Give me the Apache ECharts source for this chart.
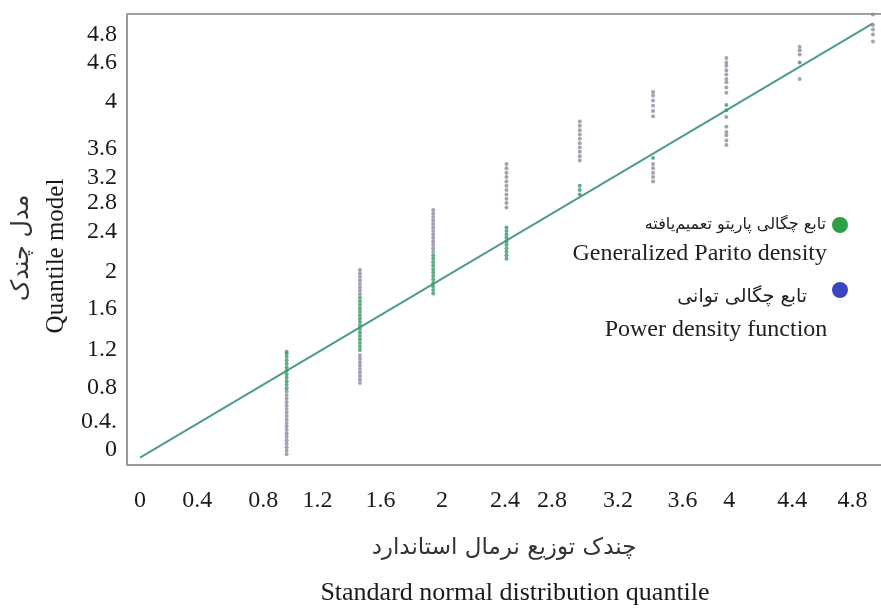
<!DOCTYPE html>
<html>
<head>
<meta charset="utf-8">
<script src="https://cdn.jsdelivr.net/npm/echarts@6/dist/echarts.min.js"></script>
<style>html,body{margin:0;padding:0;background:#fff;}#c{width:881px;height:611px;}</style>
</head>
<body>
<div id="c"></div>
<script>
// ---- data ----
const xColumns = [1, 1.5, 2, 2.5, 3, 3.5, 4, 4.5, 5];
const gpdValues = [
  [0.80,0.84,0.88,0.92,0.96,1.00,1.04,1.08,1.12,1.16,1.20,1.22],
  [1.24,1.28,1.32,1.36,1.40,1.44,1.48,1.52,1.56,1.60,1.64,1.68,1.72,1.76,1.80,1.84],
  [1.89,1.93,1.97,2.01,2.05,2.09,2.13,2.17,2.21,2.25,2.29,2.33],
  [2.29,2.33,2.37,2.41,2.45,2.49,2.53,2.57,2.61,2.65],
  [3.03,3.08,3.13],
  [3.45],
  [4.00,4.06],
  [4.55],
  []
];
const powerValues = [
  [0.04,0.08,0.12,0.16,0.20,0.24,0.28,0.32,0.36,0.40,0.44,0.48,0.52,0.56,0.60,0.64,0.68,0.72,0.76],
  [0.86,0.90,0.94,0.98,1.02,1.06,1.10,1.14,1.18,1.88,1.92,1.96,2.00,2.04,2.08,2.12,2.16],
  [2.37,2.41,2.45,2.49,2.53,2.57,2.61,2.65,2.69,2.73,2.77,2.81,2.85],
  [2.88,2.93,2.98,3.03,3.08,3.13,3.18,3.23,3.28,3.33,3.38],
  [3.42,3.47,3.52,3.57,3.62,3.67,3.72,3.77,3.82,3.87],
  [3.18,3.23,3.28,3.33,3.38,3.93,3.99,4.05,4.11,4.17,4.21],
  [3.60,3.65,3.71,3.75,3.81,3.92,4.20,4.26,4.32,4.36,4.41,4.46,4.51,4.55,4.60],
  [4.36,4.64,4.69,4.73],
  [4.79,4.87,4.93,4.98,5.10]
];
const refLineX = [0, 5];
const refLineY = [0, 5];

const xTickPositions = [0, 0.39, 0.84, 1.21, 1.64, 2.06, 2.49, 2.81, 3.26, 3.70, 4.02, 4.45, 4.86];
const xTickLabels = ['0','0.4','0.8','1.2','1.6','2','2.4','2.8','3.2','3.6','4','4.4','4.8'];
const yTickPositions = [0.09, 0.41, 0.81, 1.24, 1.72, 2.14, 2.60, 2.93, 3.22, 3.56, 4.10, 4.55, 4.87];
const yTickLabels = ['0','0.4.','0.8','1.2','1.6','2','2.4','2.8','3.2','3.6','4','4.6','4.8'];

const xTitleFa = 'چندک توزیع نرمال استاندارد';
const xTitleEn = 'Standard normal distribution quantile';
const yTitleFa = 'مدل چندک';
const yTitleEn = 'Quantile model';
const legendFa = ['تابع چگالی پاریتو تعمیم‌یافته', 'تابع چگالی توانی'];
const legendEn = ['Generalized Parito density', 'Power density function'];

// ---- build ----
function toPoints(cols) {
  const out = [];
  cols.forEach((vals, i) => vals.forEach(v => out.push([xColumns[i], v])));
  return out;
}
function labelFor(positions, labels) {
  return function (v) {
    let best = 0, d = Infinity;
    positions.forEach((p, i) => { const dd = Math.abs(p - v); if (dd < d) { d = dd; best = i; } });
    return labels[best];
  };
}
const serif = '"Liberation Serif", "Times New Roman", "DejaVu Serif", serif';
const faFont = '"DejaVu Sans", sans-serif';

const chart = echarts.init(document.getElementById('c'));
chart.setOption({
  backgroundColor: '#ffffff',
  animation: false,
  grid: { left: 127, top: 14, right: 0, bottom: 138, containLabel: false },
  xAxis: [{
    type: 'value', min: -0.089, max: 5.055,
    axisLine: { show: true, onZero: false, lineStyle: { color: '#9a9a9a', width: 2 } },
    axisTick: { show: false },
    splitLine: { show: false },
    axisLabel: {
      customValues: xTickPositions, formatter: labelFor(xTickPositions, xTickLabels),
      fontFamily: serif, fontSize: 24, color: '#1a1a1a', margin: 24
    },
    name: '{fa|' + xTitleFa + '}\n{en|' + xTitleEn + '}',
    nameLocation: 'middle', nameGap: 61,
    nameTextStyle: {
      rich: {
        fa: { fontFamily: faFont, fontSize: 23, color: '#333', lineHeight: 45 },
        en: { fontFamily: serif, fontSize: 26, color: '#1a1a1a', lineHeight: 45, padding: [0, 0, 0, 22] }
      }
    }
  }, {
    type: 'value', position: 'top', min: -0.089, max: 5.055,
    axisLine: { show: true, onZero: false, lineStyle: { color: '#a0a0a0', width: 2 } },
    axisTick: { show: false }, axisLabel: { show: false }, splitLine: { show: false }
  }],
  yAxis: {
    type: 'value', min: -0.079, max: 5.107,
    axisLine: { show: true, onZero: false, lineStyle: { color: '#9a9a9a', width: 2 } },
    axisTick: { show: false },
    splitLine: { show: false },
    axisLabel: {
      customValues: yTickPositions, formatter: labelFor(yTickPositions, yTickLabels),
      fontFamily: serif, fontSize: 24, color: '#1a1a1a', margin: 10
    }
  },
  series: [
    {
      name: 'reference', type: 'line', data: refLineX.map((x, i) => [x, refLineY[i]]),
      showSymbol: false, symbol: 'none', z: 1,
      lineStyle: { color: '#4f9a92', width: 2 }
    },
    {
      name: legendEn[1], type: 'scatter', data: toPoints(powerValues),
      symbolSize: 4, z: 2, itemStyle: { color: '#8c8c9e' }
    },
    {
      name: legendEn[0], type: 'scatter', data: toPoints(gpdValues),
      symbolSize: 4, z: 3, itemStyle: { color: '#3a9a6c' }
    }
  ],
  graphic: [
    { type: 'text', x: 22, y: 248, rotation: Math.PI / 2, style: { text: yTitleFa, font: '24px ' + faFont, fill: '#333', align: 'center', verticalAlign: 'middle' } },
    { type: 'text', x: 56, y: 256, rotation: Math.PI / 2, style: { text: yTitleEn, font: '25px ' + serif, fill: '#1a1a1a', align: 'center', verticalAlign: 'middle' } },
    { type: 'circle', shape: { cx: 840, cy: 225, r: 8 }, style: { fill: '#2e9e48' } },
    { type: 'text', x: 826, y: 225, style: { text: legendFa[0], font: '16px ' + faFont, fill: '#222', align: 'right', verticalAlign: 'middle' } },
    { type: 'text', x: 827, y: 254, style: { text: legendEn[0], font: '24px ' + serif, fill: '#222', align: 'right', verticalAlign: 'middle' } },
    { type: 'circle', shape: { cx: 840, cy: 290, r: 8 }, style: { fill: '#3a45c0' } },
    { type: 'text', x: 807, y: 297, style: { text: legendFa[1], font: '19px ' + faFont, fill: '#222', align: 'right', verticalAlign: 'middle' } },
    { type: 'text', x: 716, y: 330, style: { text: legendEn[1], font: '24px ' + serif, fill: '#222', align: 'center', verticalAlign: 'middle' } }
  ]
});
</script>
</body>
</html>
